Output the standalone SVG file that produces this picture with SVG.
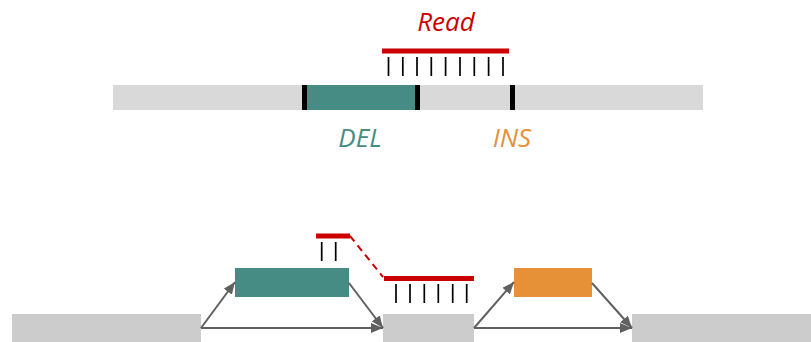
<svg xmlns="http://www.w3.org/2000/svg" width="811" height="342" viewBox="0 0 811 342">
<style>
.lbl{font-family:"Open Sans","Liberation Sans",sans-serif;font-style:italic;font-size:26px}
.tick{stroke:#000;stroke-width:1.7}
.read{stroke:#cc0000;stroke-width:5}
.conn{stroke:#606060;stroke-width:2;fill:none}
.seg{fill:#cccccc}
</style>
<defs>
<marker id="ah" viewBox="0 0 12 10" refX="12" refY="5" markerWidth="12" markerHeight="10" markerUnits="userSpaceOnUse" orient="auto">
<path d="M0,0 L12,5 L0,10 z" fill="#606060"/>
</marker>
</defs>
<rect width="811" height="342" fill="#fff"/>
<g id="reference-top">
<rect x="113" y="85" width="590" height="25" fill="#d9d9d9"/>
<rect x="305" y="85" width="112" height="25" fill="#468c84"/>
<rect x="302" y="85" width="5" height="25" fill="#000"/>
<rect x="415" y="85" width="5" height="25" fill="#000"/>
<rect x="510" y="85" width="5" height="25" fill="#000"/>
</g>
<g id="read-top">
<line class="read" x1="382" y1="51" x2="509" y2="51"/>
<g class="tick">
<line x1="388.5" y1="57" x2="388.5" y2="76"/>
<line x1="402.8" y1="57" x2="402.8" y2="76"/>
<line x1="417" y1="57" x2="417" y2="76"/>
<line x1="431.3" y1="57" x2="431.3" y2="76"/>
<line x1="445.6" y1="57" x2="445.6" y2="76"/>
<line x1="460" y1="57" x2="460" y2="76"/>
<line x1="474.3" y1="57" x2="474.3" y2="76"/>
<line x1="488.6" y1="57" x2="488.6" y2="76"/>
<line x1="503" y1="57" x2="503" y2="76"/>
</g>
<text class="lbl" x="446" y="31" text-anchor="middle" fill="#cc0000">Read</text>
</g>
<g id="label-del"><text class="lbl" x="360" y="147" text-anchor="middle" fill="#468c84">DEL</text></g>
<g id="label-ins"><text class="lbl" x="512" y="147" text-anchor="middle" fill="#e69138">INS</text></g>
<g id="node-left"><rect class="seg" x="12" y="314" width="189" height="28"/></g>
<g id="node-del"><rect x="235" y="268" width="114" height="29" fill="#468c84"/></g>
<g id="node-mid"><rect class="seg" x="383" y="314" width="91" height="28"/></g>
<g id="node-ins"><rect x="514" y="268" width="78" height="29" fill="#e69138"/></g>
<g id="node-right"><rect class="seg" x="632" y="314" width="179" height="28"/></g>
<g id="split-read">
<line class="read" x1="316" y1="236" x2="350" y2="236"/>
<line x1="350" y1="236" x2="383" y2="277" stroke="#cc0000" stroke-width="2" stroke-dasharray="7,5"/>
<line class="read" x1="384" y1="278.5" x2="474" y2="278.5"/>
<g class="tick">
<line x1="321.7" y1="242" x2="321.7" y2="261"/>
<line x1="335.7" y1="242" x2="335.7" y2="261"/>
<line x1="396" y1="284" x2="396" y2="303"/>
<line x1="410" y1="284" x2="410" y2="303"/>
<line x1="424.3" y1="284" x2="424.3" y2="303"/>
<line x1="438.3" y1="284" x2="438.3" y2="303"/>
<line x1="452.7" y1="284" x2="452.7" y2="303"/>
<line x1="466.7" y1="284" x2="466.7" y2="303"/>
</g>
</g>
<g id="connectors">
<line class="conn" x1="201" y1="328" x2="235" y2="282" marker-end="url(#ah)"/>
<line class="conn" x1="201" y1="328" x2="383" y2="328" marker-end="url(#ah)"/>
<line class="conn" x1="349" y1="283" x2="383" y2="328" marker-end="url(#ah)"/>
<line class="conn" x1="474" y1="328" x2="514" y2="282" marker-end="url(#ah)"/>
<line class="conn" x1="474" y1="328" x2="632" y2="328" marker-end="url(#ah)"/>
<line class="conn" x1="592" y1="283" x2="632" y2="328" marker-end="url(#ah)"/>
</g>
</svg>
